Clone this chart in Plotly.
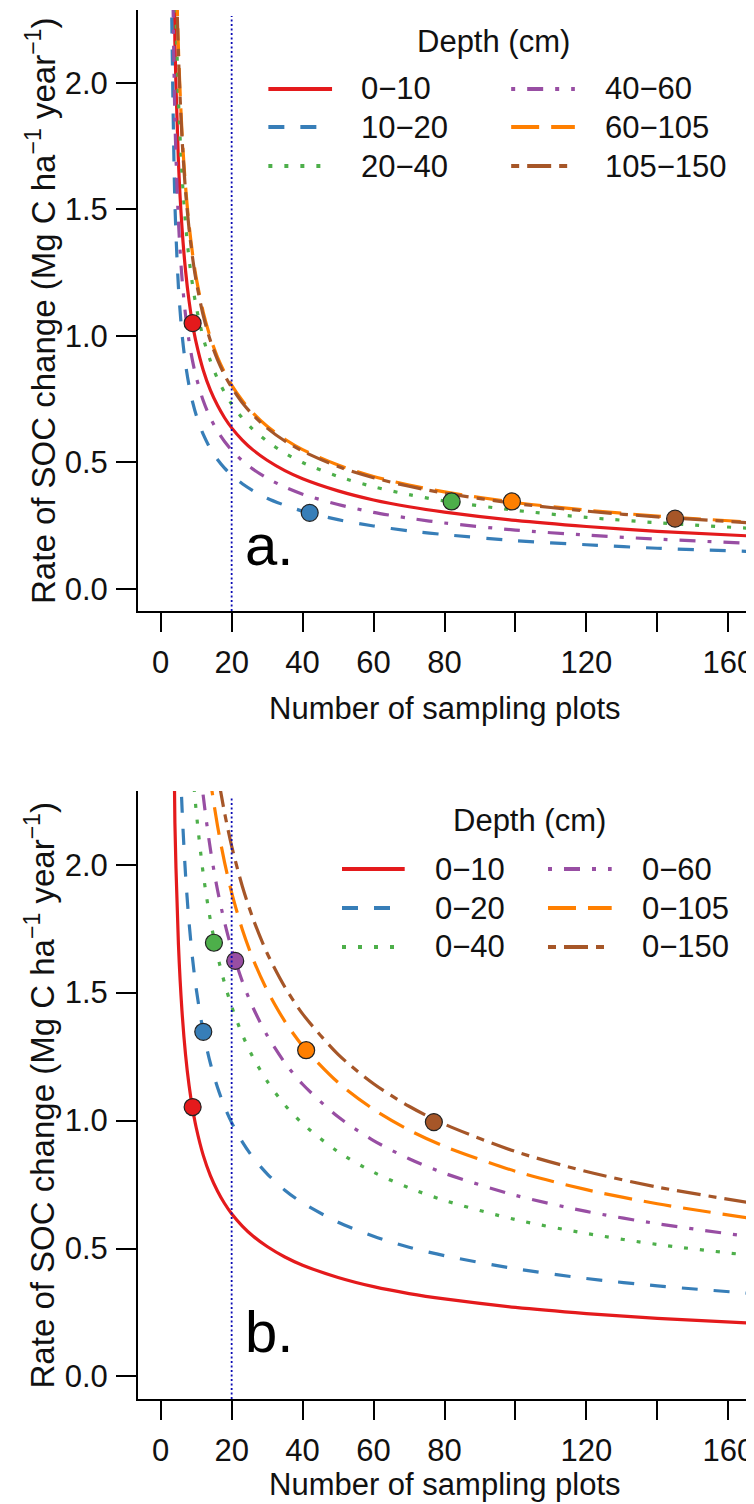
import plotly.graph_objects as go

# ---------------- data ----------------
n_plots = [3, 4, 5, 6, 7, 8, 9, 10, 12, 14, 16, 18, 20, 23, 26, 30, 35, 40,
           50, 60, 70, 80, 100, 120, 140, 167]

# panel a: individual depth layers
a_labels = ["0\u221210", "10\u221220", "20\u221240", "40\u221260", "60\u2212105", "105\u2212150"]
a_0_10 = [3.378, 2.164, 1.688, 1.428, 1.258, 1.137, 1.045, 0.973, 0.864, 0.785, 0.725, 0.676,
          0.636, 0.588, 0.549, 0.508, 0.467, 0.435, 0.387, 0.351, 0.324, 0.303, 0.270, 0.246,
          0.227, 0.208]
a_10_20 = [2.385, 1.527, 1.192, 1.008, 0.888, 0.803, 0.738, 0.687, 0.610, 0.554, 0.511, 0.477,
           0.449, 0.415, 0.388, 0.358, 0.330, 0.307, 0.273, 0.248, 0.229, 0.214, 0.190, 0.174,
           0.160, 0.147]
a_20_40 = [3.875, 2.482, 1.937, 1.638, 1.443, 1.304, 1.199, 1.116, 0.991, 0.901, 0.831, 0.776,
           0.730, 0.675, 0.630, 0.583, 0.536, 0.499, 0.444, 0.403, 0.372, 0.347, 0.310, 0.282,
           0.261, 0.238]
a_40_60 = [2.906, 1.861, 1.453, 1.228, 1.082, 0.978, 0.899, 0.837, 0.743, 0.675, 0.623, 0.582,
           0.548, 0.506, 0.473, 0.437, 0.402, 0.374, 0.333, 0.302, 0.279, 0.260, 0.232, 0.212,
           0.196, 0.179]
a_60_105 = [4.272, 2.737, 2.135, 1.805, 1.591, 1.438, 1.322, 1.230, 1.093, 0.993, 0.916, 0.855,
            0.805, 0.744, 0.695, 0.642, 0.591, 0.550, 0.489, 0.444, 0.410, 0.383, 0.341, 0.311,
            0.287, 0.263]
a_105_150 = [4.223, 2.705, 2.111, 1.784, 1.572, 1.422, 1.307, 1.216, 1.080, 0.981, 0.906, 0.845,
             0.796, 0.735, 0.687, 0.635, 0.584, 0.544, 0.483, 0.439, 0.405, 0.378, 0.337, 0.307,
             0.284, 0.260]
a_marker_n = [9, 42, 82, 99, 145]
a_marker_y = [1.050, 0.300, 0.345, 0.345, 0.277]
a_marker_layer = [0, 1, 2, 4, 5]

# panel b: cumulative depths
b_labels = ["0\u221210", "0\u221220", "0\u221240", "0\u221260", "0\u2212105", "0\u2212150"]
b_0_10 = a_0_10
b_0_20 = [5.266, 3.373, 2.632, 2.225, 1.961, 1.773, 1.630, 1.516, 1.347, 1.224, 1.130, 1.054,
          0.992, 0.917, 0.856, 0.792, 0.728, 0.678, 0.603, 0.548, 0.505, 0.472, 0.421, 0.383,
          0.354, 0.324]
b_0_40 = [7.676, 4.916, 3.836, 3.244, 2.858, 2.584, 2.375, 2.210, 1.963, 1.784, 1.646, 1.537,
          1.446, 1.336, 1.248, 1.154, 1.061, 0.988, 0.878, 0.798, 0.737, 0.688, 0.613, 0.559,
          0.516, 0.472]
b_0_60 = [8.868, 5.680, 4.432, 3.747, 3.302, 2.985, 2.744, 2.554, 2.268, 2.061, 1.902, 1.775,
          1.671, 1.544, 1.442, 1.333, 1.226, 1.142, 1.015, 0.922, 0.851, 0.794, 0.708, 0.645,
          0.597, 0.545]
b_0_105 = [10.035, 6.428, 5.016, 4.241, 3.737, 3.378, 3.105, 2.890, 2.567, 2.332, 2.153, 2.009,
           1.891, 1.747, 1.632, 1.509, 1.388, 1.292, 1.149, 1.044, 0.963, 0.899, 0.802, 0.730,
           0.675, 0.617]
b_0_150 = [11.004, 7.048, 5.500, 4.650, 4.097, 3.704, 3.405, 3.169, 2.815, 2.557, 2.360, 2.203,
           2.073, 1.916, 1.790, 1.654, 1.522, 1.417, 1.259, 1.144, 1.056, 0.986, 0.879, 0.801,
           0.740, 0.677]
b_marker_n = [9, 12, 15, 21, 41, 77]
b_marker_y = [1.053, 1.347, 1.695, 1.624, 1.275, 0.994]
b_marker_layer = [0, 1, 2, 3, 4, 5]

threshold_plots = 20
x_label_vals = [0, 20, 40, 60, 80, 120, 160]
x_label_text = ["0", "20", "40", "60", "80", "120", "160"]
x_unlabelled_vals = [100, 140]
y_tick_vals = [0, 0.5, 1.0, 1.5, 2.0]
y_tick_text = ["0.0", "0.5", "1.0", "1.5", "2.0"]

# ---------------- styles ----------------
colors = ["#E41A1C", "#377EB8", "#4DAF4A", "#984EA3", "#FF7F00", "#A65628"]
dashes = ["solid", "16px,16px", "4px,12px", "4px,12px,16px,12px", "28px,12px", "8px,8px,24px,8px"]
LW = 3.2
FONT = "Liberation Sans, Arial, sans-serif"
FS = 31

# the page body adds an 8px margin; lay out in reference pixels minus that offset
OFF = 8
W, H = 754 - OFF, 1504 - OFF
ML, MR, MT, MB = 138 - OFF, 0, 10 - OFF, 113 - OFF
PW = W - ML - MR
PH = H - MT - MB


def pxx(px):
    return (px - OFF - ML) / PW


def pyy(py):
    return (H - MB - (py - OFF)) / PH


fig = go.Figure()

panels = [
    dict(series=[a_0_10, a_10_20, a_20_40, a_40_60, a_60_105, a_105_150], labels=a_labels,
         mn=a_marker_n, my=a_marker_y, ml=a_marker_layer, xa="x", ya="y", tag="a.",
         dom=[pyy(611), 1.0], xt=708,
         leg=dict(title=(495, 42), lines=[(269, 333), (513, 577)], text=[360, 605], rows=[89, 127, 166])),
    dict(series=[b_0_10, b_0_20, b_0_40, b_0_60, b_0_105, b_0_150], labels=b_labels,
         mn=b_marker_n, my=b_marker_y, ml=b_marker_layer, xa="x2", ya="y2", tag="b.",
         dom=[0.0, pyy(791)], xt=1484,
         leg=dict(title=(531, 820), lines=[(343, 406), (550, 614)], text=[434, 642], rows=[869, 908, 947])),
]

shapes = []
annotations = []

for p in panels:
    for i, ys in enumerate(p["series"]):
        fig.add_trace(go.Scatter(
            x=n_plots, y=ys, mode="lines", xaxis=p["xa"], yaxis=p["ya"],
            line=dict(color=colors[i], width=LW, dash=dashes[i], shape="spline", smoothing=0.8),
            showlegend=False, hoverinfo="skip"))
    fig.add_trace(go.Scatter(
        x=p["mn"], y=p["my"], mode="markers", xaxis=p["xa"], yaxis=p["ya"],
        marker=dict(size=17, color=[colors[k] for k in p["ml"]],
                    line=dict(color="#222222", width=1.2)),
        showlegend=False, hoverinfo="skip"))

    # vertical dotted reference line
    shapes.append(dict(type="line", xref=p["xa"], yref=p["ya"] + " domain",
                       x0=threshold_plots, x1=threshold_plots, y0=0, y1=0.99,
                       line=dict(color="#0A0AB4", width=1.8, dash="2px,2.5px")))

    # panel tag
    annotations.append(dict(text=p["tag"], xref=p["xa"], yref=p["ya"], x=23.3, y=0.176,
                            xanchor="left", yanchor="middle", showarrow=False,
                            font=dict(family=FONT, size=58, color="black")))

    # y-axis title
    annotations.append(dict(text="Rate of SOC change (Mg C ha<sup>\u22121</sup> year<sup>\u22121</sup>)",
                            xref="paper", yref="paper", x=pxx(40), y=(p["dom"][0] + p["dom"][1]) / 2,
                            textangle=-90, xanchor="center", yanchor="middle", showarrow=False,
                            font=dict(family=FONT, size=33, color="#111111")))
    # x-axis title
    annotations.append(dict(text="Number of sampling plots", xref="paper", yref="paper",
                            x=pxx(446), y=pyy(p["xt"]), xanchor="center", yanchor="middle",
                            showarrow=False, font=dict(family=FONT, size=FS, color="#111111")))

    # custom legend
    lg = p["leg"]
    annotations.append(dict(text="Depth (cm)", xref="paper", yref="paper",
                            x=pxx(lg["title"][0]), y=pyy(lg["title"][1]), xanchor="center",
                            yanchor="middle", showarrow=False,
                            font=dict(family=FONT, size=FS, color="#111111")))
    for i, lab in enumerate(p["labels"]):
        col, row = i // 3, i % 3
        x0, x1 = lg["lines"][col]
        yy = pyy(lg["rows"][row])
        shapes.append(dict(type="line", xref="paper", yref="paper", x0=pxx(x0), x1=pxx(x1),
                           y0=yy, y1=yy, line=dict(color=colors[i], width=LW + 1, dash=dashes[i])))
        annotations.append(dict(text=lab, xref="paper", yref="paper", x=pxx(lg["text"][col]), y=yy,
                                xanchor="left", yanchor="middle", showarrow=False,
                                font=dict(family=FONT, size=FS, color="#111111")))

axis_common = dict(showgrid=False, zeroline=False, showline=True, linecolor="black", linewidth=2,
                   ticks="outside", tickcolor="black", tickwidth=2,
                   tickfont=dict(family=FONT, size=FS, color="#111111"))

x_common = dict(axis_common, range=[-6.4, 166.4], tickmode="array",
                tickvals=x_label_vals, ticktext=x_label_text,
                ticklen=19, ticklabelstandoff=4, ticklabeloverflow="allow",
                minor=dict(tickmode="array", tickvals=x_unlabelled_vals, ticks="outside",
                           ticklen=19, tickwidth=2, tickcolor="black", showgrid=False))
y_common = dict(axis_common, range=[-0.088, 2.288], tickvals=y_tick_vals, ticktext=y_tick_text,
                ticklen=20, ticklabelstandoff=2)

fig.update_layout(
    width=W, height=H,
    margin=dict(l=ML, r=MR, t=MT, b=MB),
    paper_bgcolor="white", plot_bgcolor="white",
    xaxis=dict(x_common, domain=[0, 1], anchor="y"),
    yaxis=dict(y_common, domain=panels[0]["dom"], anchor="x"),
    xaxis2=dict(x_common, domain=[0, 1], anchor="y2"),
    yaxis2=dict(y_common, domain=panels[1]["dom"], anchor="x2"),
    shapes=shapes,
    annotations=annotations,
    showlegend=False,
)

fig.write_html("out.html")
